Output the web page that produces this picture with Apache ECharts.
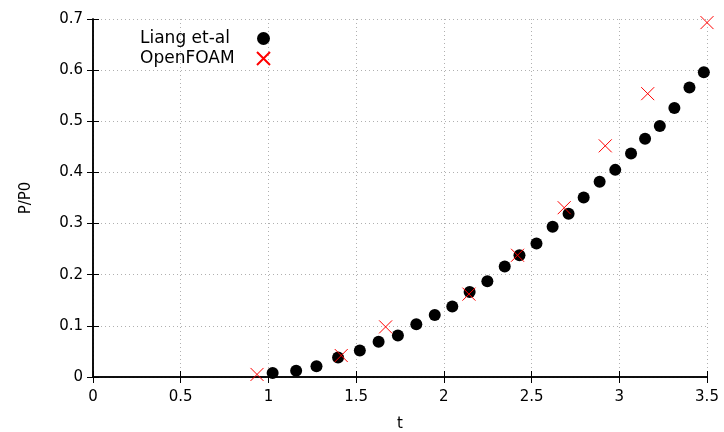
<!DOCTYPE html>
<html lang="en" style="height: 100%">
<head>
    <meta charset="utf-8">
</head>
<body style="height: 100%; margin: 0; background: #fff">
    <div id="container" style="width: 724px; height: 432px"></div>
    <script type="text/javascript" src="https://cdn.jsdelivr.net/npm/echarts@6/dist/echarts.min.js"></script>
    <script type="text/javascript">
        // Liang et-al (black dots)
        var liangT = [1.024, 1.158, 1.274, 1.397, 1.521, 1.628, 1.738, 1.843, 1.948, 2.048, 2.147, 2.248, 2.347,
            2.431, 2.528, 2.620, 2.711, 2.797, 2.888, 2.977, 3.067, 3.147, 3.231, 3.314, 3.400, 3.482];
        var liangP = [0.008, 0.012, 0.021, 0.038, 0.052, 0.069, 0.081, 0.103, 0.121, 0.138, 0.166, 0.187, 0.216,
            0.238, 0.261, 0.294, 0.319, 0.351, 0.382, 0.405, 0.437, 0.466, 0.491, 0.526, 0.566, 0.596];
        // OpenFOAM (red crosses)
        var foamT = [0.935, 1.415, 1.668, 2.143, 2.420, 2.686, 2.920, 3.162, 3.500];
        var foamP = [0.005, 0.042, 0.098, 0.162, 0.238, 0.331, 0.452, 0.554, 0.693];

        var xTicks = [0, 0.5, 1, 1.5, 2, 2.5, 3, 3.5];
        var yTicks = [0, 0.1, 0.2, 0.3, 0.4, 0.5, 0.6, 0.7];

        function pairs(a, b) {
            return a.map(function (v, i) { return [v, b[i]]; });
        }

        var font = 'DejaVu Sans';
        var crossPath = 'path://M0,0L10,10M10,0L0,10';

        var chart = echarts.init(document.getElementById('container'), null, { renderer: 'canvas' });

        var tickStyle = { show: true, inside: true, length: 6, lineStyle: { color: '#000', width: 1 } };
        var gridLine = { show: true, lineStyle: { color: '#b0b0b0', type: [1, 3], width: 1 } };
        var frameLine = { show: true, lineStyle: { color: '#000', width: 1.5 } };

        var option = {
            animation: false,
            backgroundColor: '#fff',
            grid: { left: 93, right: 17, top: 19, bottom: 55, containLabel: false, outerBoundsMode: 'none' },
            legend: {
                orient: 'vertical', align: 'right', left: 135, top: 25,
                itemWidth: 13, itemHeight: 13, itemGap: 3,
                formatter: '{a|{name}}',
                textStyle: {
                    fontFamily: font, fontSize: 17, color: '#000',
                    rich: { a: { fontFamily: font, fontSize: 17, color: '#000', width: 112, align: 'left' } }
                },
                data: ['Liang et-al', 'OpenFOAM']
            },
            xAxis: [{
                type: 'value', min: 0, max: 3.5, interval: 0.5,
                name: 't', nameLocation: 'middle', nameGap: 40,
                nameTextStyle: { fontFamily: font, fontSize: 15, color: '#000' },
                axisLine: frameLine,
                axisTick: tickStyle,
                axisLabel: { fontFamily: font, fontSize: 15, color: '#000', margin: 13 },
                splitLine: gridLine
            }, {
                type: 'value', min: 0, max: 3.5, interval: 0.5, position: 'top',
                axisLine: frameLine,
                axisTick: tickStyle, axisLabel: { show: false }, splitLine: { show: false }
            }],
            yAxis: [{
                type: 'value', min: 0, max: 0.7, interval: 0.1,
                name: 'P/P0', nameLocation: 'middle', nameGap: 59,
                nameTextStyle: { fontFamily: font, fontSize: 15, color: '#000' },
                axisLine: frameLine,
                axisTick: tickStyle,
                axisLabel: { fontFamily: font, fontSize: 15, color: '#000', margin: 10,
                    formatter: function (v) { return +v.toFixed(1) + ''; } },
                splitLine: gridLine
            }, {
                type: 'value', min: 0, max: 0.7, interval: 0.1, position: 'right',
                axisLine: frameLine,
                axisTick: tickStyle, axisLabel: { show: false }, splitLine: { show: false }
            }],
            series: [{
                name: 'Liang et-al', type: 'scatter',
                symbol: 'circle', symbolSize: 12,
                itemStyle: { color: '#000', opacity: 1 },
                data: pairs(liangT, liangP),
                clip: false
            }, {
                name: 'OpenFOAM', type: 'scatter',
                symbol: crossPath, symbolSize: 13,
                itemStyle: { color: 'rgba(0,0,0,0)', borderColor: '#ff0000', borderWidth: 1, opacity: 1 },
                data: pairs(foamT, foamP),
                clip: false
            }]
        };

        chart.setOption(option);
        window.addEventListener('resize', chart.resize);
    </script>
</body>
</html>
